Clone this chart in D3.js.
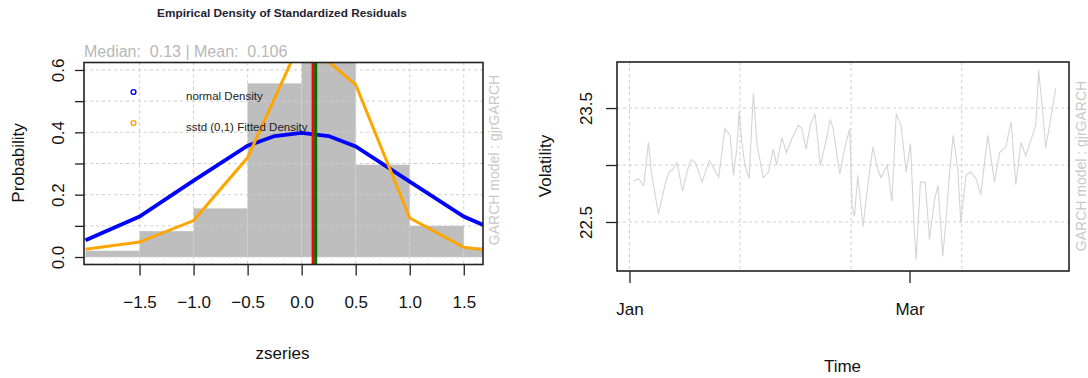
<!DOCTYPE html>
<html><head><meta charset="utf-8">
<script src="https://cdn.jsdelivr.net/npm/d3@7"></script>
<style>
html,body{margin:0;padding:0;background:#fff;}
svg{display:block;font-family:"Liberation Sans",Arial,sans-serif;}
text{white-space:pre;}
</style></head>
<body><svg id="c" width="1088" height="378"></svg>
<script>
// ---------- Data: left panel (density of standardized residuals) ----------
const histBreaks   = [-2.0,-1.5,-1.0,-0.5,0.0,0.5,1.0,1.5,2.0];
const histDensity  = [0.020,0.083,0.156,0.557,0.680,0.296,0.100,0.031];
const normalX      = [-2.0,-1.5,-1.0,-0.5,-0.25,0.0,0.25,0.5,1.0,1.5,2.0];
const normalDensity= [0.054,0.130,0.245,0.357,0.388,0.398,0.388,0.355,0.242,0.130,0.054];
const sstdX        = [-2.0,-1.5,-1.0,-0.5,0.0,0.5,1.0,1.5,2.0];
const sstdDensity  = [0.025,0.048,0.117,0.319,0.700,0.553,0.125,0.031,0.010];
const zTicks       = [-1.5,-1.0,-0.5,0.0,0.5,1.0,1.5];
const probTicks    = [0.0,0.1,0.2,0.3,0.4,0.5,0.6];
const probLabels   = [0.0,0.2,0.4,0.6];
const meanValue = 0.106, medianValue = 0.13;
const legendLabels = ["normal Density","sstd (0,1) Fitted Density"];

// ---------- Data: right panel (volatility) ----------
const volDays = [0.9,1.9,3.0,4.0,4.6,6.1,7.6,8.4,9.1,10.0,11.2,12.1,13.0,13.9,15.3,16.8,17.4,18.8,
  20.1,21.2,21.9,22.6,23.1,23.6,24.3,25.2,26.1,26.9,28.2,29.3,30.3,31.0,32.1,33.1,34.2,35.6,36.3,37.2,
  38.1,39.1,40.2,41.2,42.3,42.9,44.3,45.3,46.4,46.9,47.4,48.1,49.2,50.2,51.3,52.3,53.0,54.3,55.3,56.2,
  57.2,58.3,59.2,60.0,60.4,61.3,62.3,63.2,64.3,65.0,66.0,66.7,67.4,68.2,69.2,69.8,70.9,71.9,73.0,74.0,
  75.5,76.9,78.0,79.3,80.4,81.4,82.5,83.5,84.9,85.6,86.2,87.0,87.7,88.7,89.8];
const volValues = [22.86,22.88,22.82,23.20,22.94,22.57,22.85,22.94,22.96,23.02,22.77,22.94,23.05,23.02,22.85,23.04,23.00,22.89,
  23.32,23.26,22.91,23.14,23.47,23.23,23.00,22.88,23.63,23.17,22.89,22.94,23.14,23.00,23.24,23.11,23.23,23.35,23.32,23.14,
  23.35,23.45,23.00,23.17,23.40,23.32,22.92,23.14,23.32,22.64,22.55,22.91,22.46,22.82,23.16,22.96,22.89,23.00,22.68,23.45,
  23.35,22.94,23.19,22.43,22.17,22.85,22.85,22.35,22.70,22.82,22.20,22.52,22.91,23.26,22.96,22.49,22.91,22.94,22.88,22.74,
  23.26,22.85,23.11,23.16,23.38,22.83,23.20,23.08,23.26,23.35,23.83,23.50,23.15,23.40,23.67];
const timeTickDays   = [0,59];
const timeTickLabels = ["Jan","Mar"];
const timeGridDays   = [0,23.3,46.7,70];
const volTicks       = [22.5,23.0,23.5];
const volLabels      = [22.5,23.5];

// ---------- Drawing ----------
const svg = d3.select("#c");
const AX = "#222", GRID = "#cfcfcf";

// ===== Left panel =====
const L = {x0:84, x1:483, y0:62.5, y1:264.5};
const xz = d3.scaleLinear().domain([-2.014,1.678]).range([L.x0,L.x1]);
const yp = d3.scaleLinear().domain([-0.024,0.624]).range([L.y1,L.y0]);

svg.append("clipPath").attr("id","clipL").append("rect")
  .attr("x",L.x0).attr("y",L.y0).attr("width",L.x1-L.x0).attr("height",L.y1-L.y0);
const gL = svg.append("g").attr("clip-path","url(#clipL)");

const bins = histDensity.map((d,i)=>({x0:histBreaks[i],x1:histBreaks[i+1],d}));
gL.selectAll("rect.bar").data(bins).join("rect").attr("class","bar")
  .attr("x",d=>xz(d.x0)).attr("width",d=>xz(d.x1)-xz(d.x0))
  .attr("y",d=>yp(d.d)).attr("height",d=>yp(0)-yp(d.d))
  .attr("fill","#bebebe");

gL.selectAll("line.gx").data(zTicks).join("line")
  .attr("x1",d=>xz(d)).attr("x2",d=>xz(d)).attr("y1",L.y0).attr("y2",L.y1)
  .attr("stroke",GRID).attr("stroke-dasharray","3,3");
gL.selectAll("line.gy").data(probTicks).join("line")
  .attr("y1",d=>yp(d)).attr("y2",d=>yp(d)).attr("x1",L.x0).attr("x2",L.x1)
  .attr("stroke",GRID).attr("stroke-dasharray","3,3");

const lineN = d3.line().x((d,i)=>xz(normalX[i])).y(d=>yp(d));
const lineS = d3.line().x((d,i)=>xz(sstdX[i])).y(d=>yp(d));
gL.append("path").datum(normalDensity).attr("d",lineN)
  .attr("fill","none").attr("stroke","#0000ff").attr("stroke-width",3.8);
gL.append("path").datum(sstdDensity).attr("d",lineS)
  .attr("fill","none").attr("stroke","#ffa500").attr("stroke-width",3);

gL.append("line").attr("x1",xz(meanValue)).attr("x2",xz(meanValue)).attr("y1",L.y0).attr("y2",L.y1)
  .attr("stroke","#ff0000").attr("stroke-width",3);
gL.append("line").attr("x1",xz(medianValue)).attr("x2",xz(medianValue)).attr("y1",L.y0).attr("y2",L.y1)
  .attr("stroke","#007000").attr("stroke-width",3);

const legColors = ["#0000ff","#ffa500"];
const legY = [92,123];
legendLabels.forEach((t,i)=>{
  svg.append("circle").attr("cx",133.5).attr("cy",legY[i]).attr("r",2.4)
    .attr("fill","none").attr("stroke",legColors[i]).attr("stroke-width",1.4);
  svg.append("text").attr("x",186).attr("y",legY[i]+8).attr("font-size",11.5)
    .attr("fill","#222").text(t);
});

svg.append("rect").attr("x",L.x0).attr("y",L.y0).attr("width",L.x1-L.x0).attr("height",L.y1-L.y0)
  .attr("fill","none").attr("stroke",AX).attr("stroke-width",1.6);

const gxL = svg.append("g").attr("transform",`translate(0,${L.y1})`)
  .call(d3.axisBottom(xz).tickValues(zTicks).tickFormat(d3.format(".1f")).tickSize(11).tickPadding(20));
gxL.select(".domain").remove();
gxL.selectAll("line").attr("stroke",AX).attr("stroke-width",1.3);
gxL.selectAll("text").attr("font-size",17).attr("fill","#111")
  .attr("font-family","Liberation Sans, Arial, sans-serif");

const gyL = svg.append("g").attr("transform",`translate(${L.x0},0)`)
  .call(d3.axisLeft(yp).tickValues(probTicks).tickSize(9).tickFormat(d=>probLabels.some(v=>Math.abs(v-d)<1e-9)?d3.format(".1f")(d):""));
gyL.select(".domain").remove();
gyL.selectAll("line").attr("stroke",AX).attr("stroke-width",1.3);
gyL.selectAll("text").attr("font-size",17).attr("fill","#111")
  .attr("font-family","Liberation Sans, Arial, sans-serif")
  .attr("text-anchor","middle").attr("x",0)
  .attr("transform","translate(-26,0) rotate(-90)").attr("dy","0.35em");

svg.append("text").attr("x",282).attr("y",17).attr("text-anchor","middle")
  .attr("font-size",11.8).attr("font-weight","bold").attr("fill","#223")
  .text("Empirical Density of Standardized Residuals");
svg.append("text").attr("x",84).attr("y",57).attr("font-size",16).attr("fill","#b8b8b8")
  .attr("xml:space","preserve").text("Median:  0.13 | Mean:  0.106");
svg.append("text").attr("x",282.5).attr("y",359).attr("text-anchor","middle")
  .attr("font-size",17).attr("fill","#111").text("zseries");
svg.append("text").attr("transform","translate(18,163) rotate(-90)").attr("text-anchor","middle")
  .attr("dy","0.35em").attr("font-size",17).attr("fill","#111").text("Probability");
svg.append("text").attr("transform","translate(494,160) rotate(-90)").attr("text-anchor","middle")
  .attr("dy","0.35em").attr("font-size",14).attr("fill","#c8c8c8").text("GARCH model : gjrGARCH");

// ===== Right panel =====
const R = {x0:617, x1:1069, y0:62, y1:271};
const xt = d3.scaleLinear().domain([-2.63,92.6]).range([R.x0,R.x1]);
const yv = d3.scaleLinear().domain([22.07,23.904]).range([R.y1,R.y0]);

svg.append("clipPath").attr("id","clipR").append("rect")
  .attr("x",R.x0).attr("y",R.y0).attr("width",R.x1-R.x0).attr("height",R.y1-R.y0);
const gR = svg.append("g").attr("clip-path","url(#clipR)");

gR.selectAll("line.gx").data(timeGridDays).join("line")
  .attr("x1",d=>xt(d)).attr("x2",d=>xt(d)).attr("y1",R.y0).attr("y2",R.y1)
  .attr("stroke",GRID).attr("stroke-dasharray","3,3");
gR.selectAll("line.gy").data(volTicks).join("line")
  .attr("y1",d=>yv(d)).attr("y2",d=>yv(d)).attr("x1",R.x0).attr("x2",R.x1)
  .attr("stroke",GRID).attr("stroke-dasharray","3,3");

const lineR = d3.line().x((d,i)=>xt(volDays[i])).y(d=>yv(d));
gR.append("path").datum(volValues).attr("d",lineR)
  .attr("fill","none").attr("stroke","#d4d4d4").attr("stroke-width",1.1);

svg.append("rect").attr("x",R.x0).attr("y",R.y0).attr("width",R.x1-R.x0).attr("height",R.y1-R.y0)
  .attr("fill","none").attr("stroke",AX).attr("stroke-width",1.6);

const gxR = svg.append("g").attr("transform",`translate(0,${R.y1})`)
  .call(d3.axisBottom(xt).tickValues(timeTickDays).tickFormat((d,i)=>timeTickLabels[i]).tickSize(12).tickPadding(20));
gxR.select(".domain").remove();
gxR.selectAll("line").attr("stroke",AX).attr("stroke-width",1.3);
gxR.selectAll("text").attr("font-size",17).attr("fill","#111")
  .attr("font-family","Liberation Sans, Arial, sans-serif");

const gyR = svg.append("g").attr("transform",`translate(${R.x0},0)`)
  .call(d3.axisLeft(yv).tickValues(volTicks).tickSize(11).tickFormat(d=>volLabels.some(v=>Math.abs(v-d)<1e-9)?d3.format(".1f")(d):""));
gyR.select(".domain").remove();
gyR.selectAll("line").attr("stroke",AX).attr("stroke-width",1.3);
gyR.selectAll("text").attr("font-size",17).attr("fill","#111")
  .attr("font-family","Liberation Sans, Arial, sans-serif")
  .attr("text-anchor","middle").attr("x",0)
  .attr("transform","translate(-31,0) rotate(-90)").attr("dy","0.35em");

svg.append("text").attr("x",842.5).attr("y",372).attr("text-anchor","middle")
  .attr("font-size",17).attr("fill","#111").text("Time");
svg.append("text").attr("transform","translate(545,166) rotate(-90)").attr("text-anchor","middle")
  .attr("dy","0.35em").attr("font-size",17).attr("fill","#111").text("Volatility");
svg.append("text").attr("transform","translate(1081,166) rotate(-90)").attr("text-anchor","middle")
  .attr("dy","0.35em").attr("font-size",14).attr("fill","#c8c8c8").text("GARCH model : gjrGARCH");
</script></body></html>
